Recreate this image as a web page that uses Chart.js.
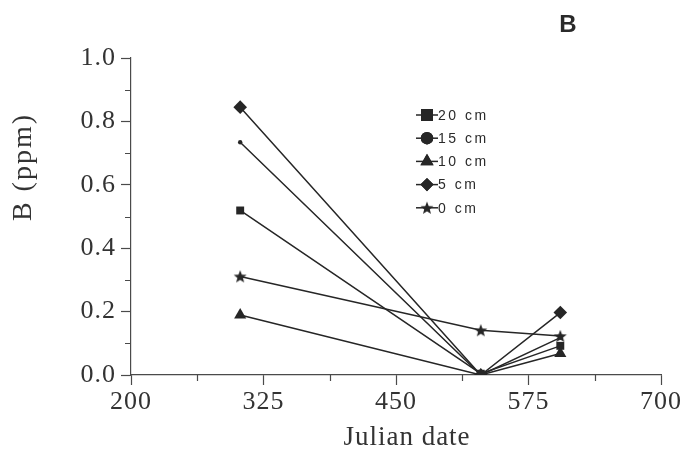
<!DOCTYPE html>
<html>
<head>
<meta charset="utf-8">
<script src="https://cdn.jsdelivr.net/npm/chart.js@4.4.1/dist/chart.umd.min.js"></script>
<style>
  html, body { margin: 0; padding: 0; background: #fff; }
  #wrap { width: 688px; height: 457px; position: relative; }
</style>
</head>
<body>
<div id="wrap"><canvas id="c" width="688" height="457"></canvas></div>
<script>
// ---- data ----
const julianDates = [303, 530, 605];
const seriesLabels = ['20 cm', '15 cm', '10 cm', '5 cm', '0 cm'];
const depth20 = [0.519, 0.004, 0.092];
const depth15 = [0.734, 0.000, 0.118];
const depth10 = [0.189, 0.000, 0.068];
const depth5  = [0.845, 0.000, 0.197];
const depth0  = [0.311, 0.141, 0.123];
const xTickLabels = [200, 325, 450, 575, 700];
const yTickLabels = [0.0, 0.2, 0.4, 0.6, 0.8, 1.0];

const INK = '#262626';
const AXIS = '#4a4a4a';
const SERIF = '"Liberation Serif", "Times New Roman", serif';

// filled five-point star as a point image
function makeStar(outer, inner) {
  const s = Math.ceil(outer * 2 + 2);
  const cv = document.createElement('canvas');
  cv.width = s; cv.height = s;
  const g = cv.getContext('2d');
  g.fillStyle = INK;
  g.beginPath();
  for (let i = 0; i < 10; i++) {
    const r = i % 2 === 0 ? outer : inner;
    const a = -Math.PI / 2 + i * Math.PI / 5;
    const px = s / 2 + r * Math.cos(a), py = s / 2 + r * Math.sin(a) + 0.6;
    if (i === 0) g.moveTo(px, py); else g.lineTo(px, py);
  }
  g.closePath();
  g.fill();
  return cv;
}
const starImg = makeStar(6.8, 2.9);

const seriesValues = [depth20, depth15, depth10, depth5, depth0];
const styles = ['rect', 'circle', 'triangle', 'rectRot', starImg];
const radii = [5.6, 2.2, 7, 6.8, 6];
const legendRadii = [8.5, 6.2, 7.6, 6.6, 6];

const datasets = seriesValues.map((vals, i) => ({
  label: seriesLabels[i],
  data: vals.map((v, j) => ({ x: julianDates[j], y: v })),
  showLine: true,
  borderColor: INK,
  backgroundColor: INK,
  borderWidth: 1.5,
  pointStyle: styles[i],
  pointRadius: radii[i],
  pointBorderWidth: 0,
  pointBackgroundColor: INK,
  pointBorderColor: INK,
}));

const isMajorX = v => Math.abs(((v - 200) % 125)) < 1e-6;
const isMajorY = v => Math.round(v * 10) % 2 === 0;

const decorPlugin = {
  id: 'decor',
  beforeDraw(chart) {
    chart.ctx.letterSpacing = '1px';
  },
  afterDraw(chart) {
    const ctx = chart.ctx;
    const xs = chart.scales.x, ys = chart.scales.y;
    ctx.save();
    ctx.letterSpacing = '0px';
    // minor ticks
    ctx.strokeStyle = AXIS;
    ctx.lineWidth = 1.2;
    ctx.beginPath();
    xs.ticks.forEach(t => {
      if (!isMajorX(t.value)) {
        const px = Math.round(xs.getPixelForValue(t.value)) + 0.5;
        ctx.moveTo(px, ys.bottom); ctx.lineTo(px, ys.bottom + 6);
      }
    });
    ys.ticks.forEach(t => {
      if (!isMajorY(t.value)) {
        const py = Math.round(ys.getPixelForValue(t.value)) + 0.5;
        ctx.moveTo(xs.left, py); ctx.lineTo(xs.left - 6, py);
      }
    });
    ctx.stroke();

    // legend inside plot
    chart.data.datasets.forEach((ds, i) => {
      const y = 115 + i * 23.2;
      ctx.strokeStyle = INK; ctx.lineWidth = 1.5;
      ctx.beginPath(); ctx.moveTo(416, y); ctx.lineTo(438, y); ctx.stroke();
      ctx.fillStyle = INK;
      Chart.helpers.drawPoint(ctx, { pointStyle: ds.pointStyle, radius: legendRadii[i], rotation: 0, borderWidth: 0 }, 427, y);
      ctx.fill();
      ctx.font = '14px "Liberation Sans", Arial, sans-serif';
      ctx.letterSpacing = '2.5px';
      ctx.textAlign = 'left'; ctx.textBaseline = 'middle';
      ctx.fillStyle = '#2a2a2a';
      ctx.fillText(ds.label, 438, y + 1);
    });

    // axis titles
    ctx.fillStyle = '#333';
    ctx.font = '27px ' + SERIF;
    ctx.letterSpacing = '1px';
    ctx.textAlign = 'center'; ctx.textBaseline = 'middle';
    ctx.fillText('Julian date', 407, 438);

    ctx.save();
    ctx.translate(24, 167);
    ctx.rotate(-Math.PI / 2);
    ctx.font = '28px ' + SERIF;
    ctx.letterSpacing = '2px';
    ctx.fillText('B (ppm)', 0, 0);
    ctx.restore();

    // panel letter
    ctx.letterSpacing = '0px';
    ctx.font = 'bold 24px "Liberation Sans", Arial, sans-serif';
    ctx.fillStyle = '#2a2a2a';
    ctx.fillText('B', 568, 25);
    ctx.restore();
  }
};

new Chart(document.getElementById('c'), {
  type: 'scatter',
  data: { datasets },
  plugins: [decorPlugin],
  options: {
    responsive: false,
    animation: false,
    devicePixelRatio: 1,
    layout: { padding: { left: 0, right: 27, top: 58, bottom: 0 } },
    plugins: { legend: { display: false }, tooltip: { enabled: false } },
    scales: {
      x: {
        type: 'linear',
        min: 200, max: 700,
        afterFit(s) { s.height = 82; },
        ticks: {
          stepSize: 62.5,
          autoSkip: false,
          maxRotation: 0,
          padding: 2,
          color: '#333',
          font: { family: SERIF, size: 26 },
          callback: v => (isMajorX(v) && xTickLabels.includes(Math.round(v))) ? String(Math.round(v)) : ''
        },
        grid: {
          drawOnChartArea: false,
          drawTicks: true,
          tickLength: 10,
          tickWidth: 1.2,
          tickColor: c => (c.tick && isMajorX(c.tick.value)) ? AXIS : 'rgba(0,0,0,0)'
        },
        border: { display: true, color: AXIS, width: 1.2 }
      },
      y: {
        type: 'linear',
        min: 0, max: 1,
        afterFit(s) { s.width = 131; },
        ticks: {
          stepSize: 0.1,
          autoSkip: false,
          padding: 5,
          color: '#333',
          font: { family: SERIF, size: 26 },
          callback: v => {
            if (!isMajorY(v)) return '';
            const r = Math.round(v * 10) / 10;
            return yTickLabels.includes(r) ? r.toFixed(1) : '';
          }
        },
        grid: {
          drawOnChartArea: false,
          drawTicks: true,
          tickLength: 10,
          tickWidth: 1.2,
          tickColor: c => (c.tick && isMajorY(c.tick.value)) ? AXIS : 'rgba(0,0,0,0)'
        },
        border: { display: true, color: AXIS, width: 1.2 }
      }
    }
  }
});
</script>
</body>
</html>
